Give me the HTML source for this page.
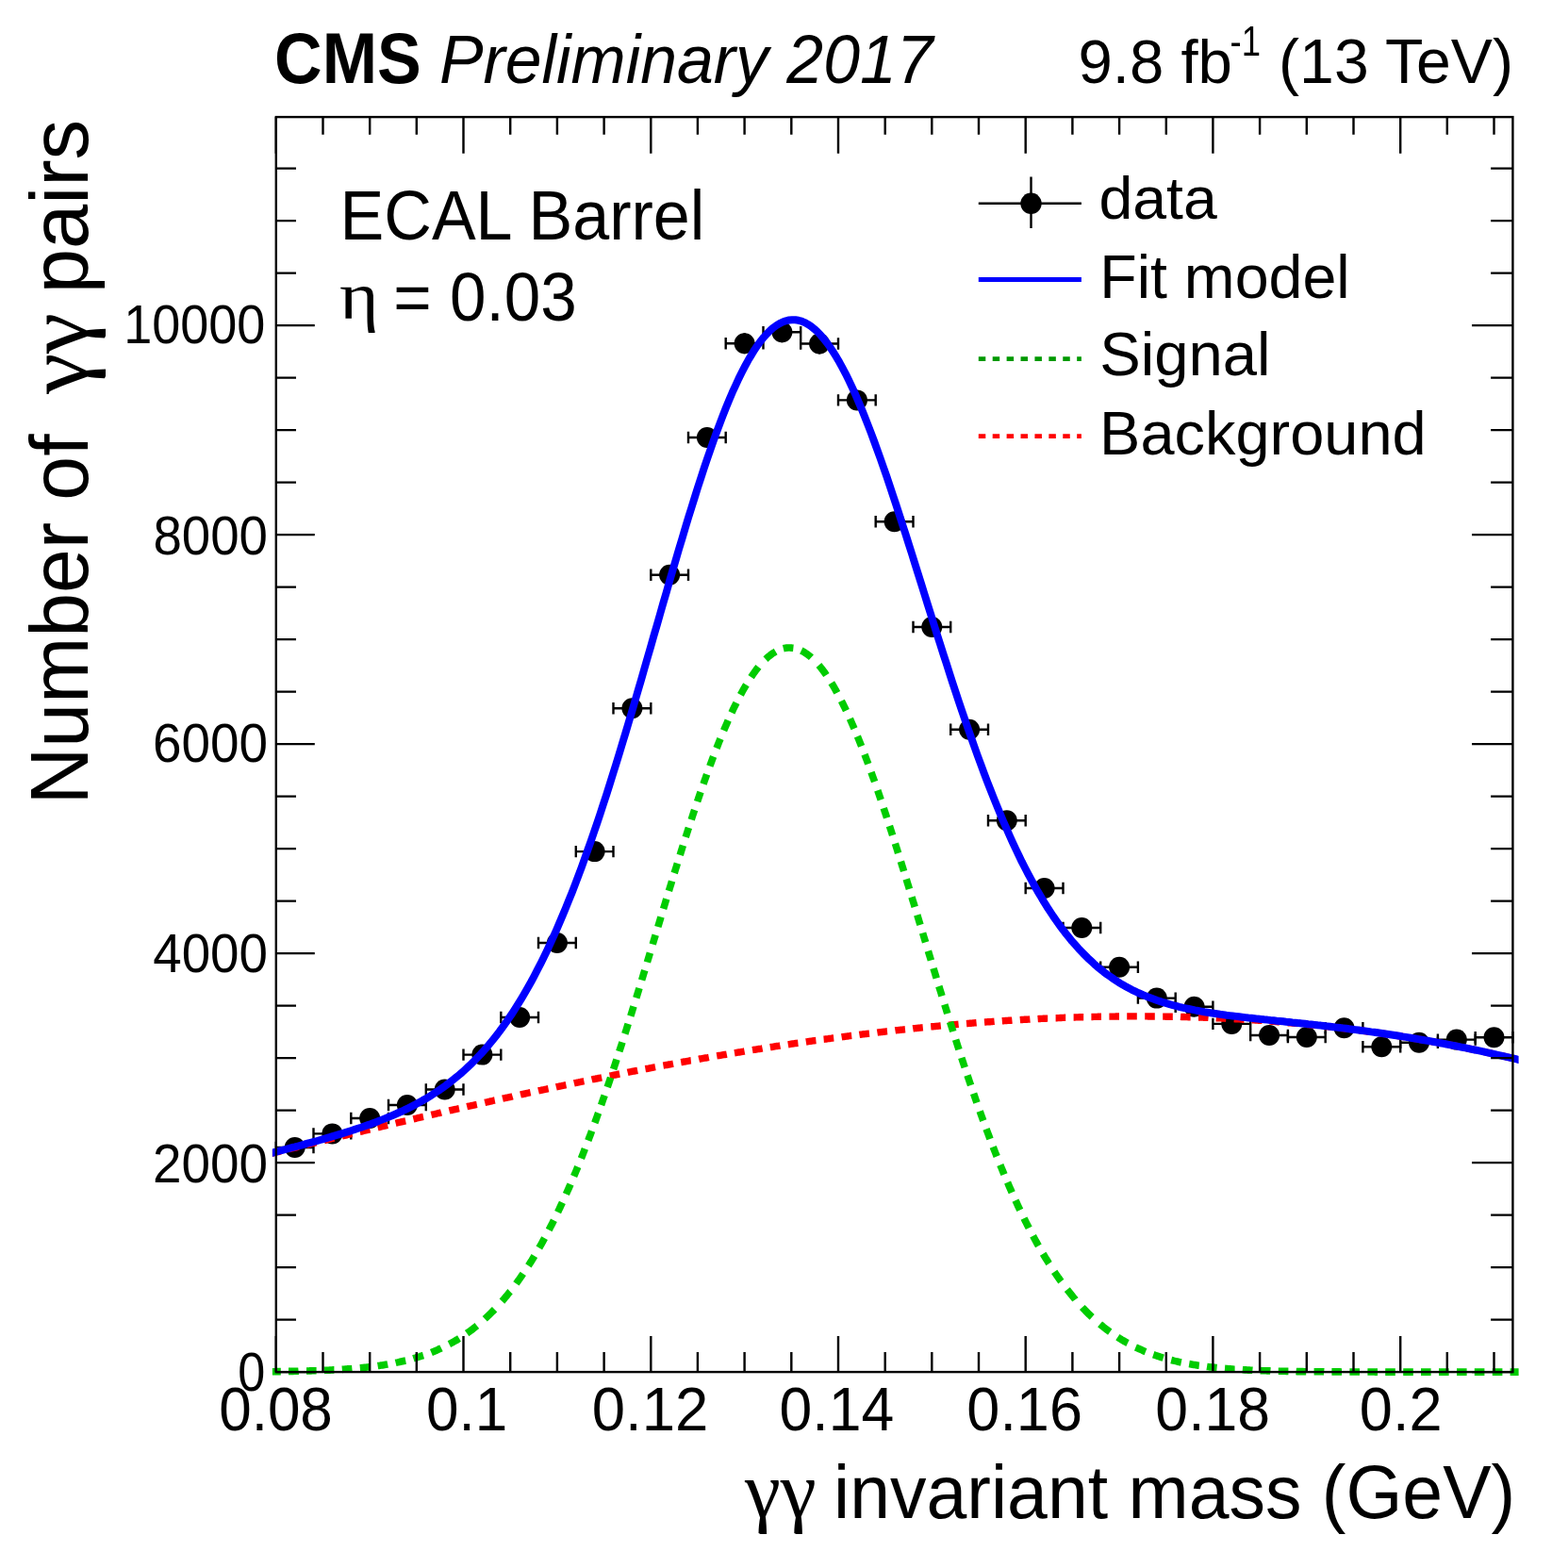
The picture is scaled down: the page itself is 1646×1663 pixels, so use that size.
<!DOCTYPE html>
<html lang="en">
<head>
<meta charset="utf-8">
<title>CMS Preliminary 2017 - ECAL Barrel diphoton invariant mass</title>
<style>
html,body{margin:0;padding:0;background:#fff;}
body{width:1646px;height:1663px;overflow:hidden;}
svg{display:block;filter:blur(0.6px);}
text{font-family:"Liberation Sans", sans-serif;fill:#000;}
.g{font-family:"Liberation Serif", serif;}
.gm{font-family:"Liberation Serif", "DejaVu Serif", serif;}
</style>
</head>
<body>
<svg width="1646" height="1663" viewBox="0 0 1646 1663">
<rect x="0" y="0" width="1646" height="1663" fill="#fff"/>
<g id="data" stroke="#000" stroke-width="2.4" fill="#000">
<path d="M292.8 1217.0H332.5M292.8 1210.8V1223.2M332.5 1210.8V1223.2M312.7 1211.9V1222.1" fill="none"/><circle cx="312.7" cy="1217.0" r="11" stroke="none"/>
<path d="M332.5 1202.4H372.3M332.5 1196.2V1208.6M372.3 1196.2V1208.6M352.4 1197.1V1207.7" fill="none"/><circle cx="352.4" cy="1202.4" r="11" stroke="none"/>
<path d="M372.3 1186.0H412.0M372.3 1179.8V1192.2M412.0 1179.8V1192.2M392.2 1180.5V1191.5" fill="none"/><circle cx="392.2" cy="1186.0" r="11" stroke="none"/>
<path d="M412.0 1172.0H451.8M412.0 1165.8V1178.2M451.8 1165.8V1178.2M431.9 1166.4V1177.6" fill="none"/><circle cx="431.9" cy="1172.0" r="11" stroke="none"/>
<path d="M451.8 1155.5H491.5M451.8 1149.3V1161.7M491.5 1149.3V1161.7M471.7 1149.7V1161.3" fill="none"/><circle cx="471.7" cy="1155.5" r="11" stroke="none"/>
<path d="M491.5 1118.6H531.3M491.5 1112.4V1124.8M531.3 1112.4V1124.8M511.4 1112.5V1124.7" fill="none"/><circle cx="511.4" cy="1118.6" r="11" stroke="none"/>
<path d="M531.3 1079.0H571.0M531.3 1072.8V1085.2M571.0 1072.8V1085.2M551.1 1072.5V1085.5" fill="none"/><circle cx="551.1" cy="1079.0" r="11" stroke="none"/>
<path d="M571.0 1000.0H610.8M571.0 993.8V1006.2M610.8 993.8V1006.2M590.9 992.9V1007.1" fill="none"/><circle cx="590.9" cy="1000.0" r="11" stroke="none"/>
<path d="M610.8 903.1H650.5M610.8 896.9V909.3M650.5 896.9V909.3M630.6 895.3V910.9" fill="none"/><circle cx="630.6" cy="903.1" r="11" stroke="none"/>
<path d="M650.5 751.2H690.3M650.5 745.0V757.4M690.3 745.0V757.4M670.4 742.4V760.0" fill="none"/><circle cx="670.4" cy="751.2" r="11" stroke="none"/>
<path d="M690.3 609.8H730.0M690.3 603.6V616.0M730.0 603.6V616.0M710.1 600.1V619.5" fill="none"/><circle cx="710.1" cy="609.8" r="11" stroke="none"/>
<path d="M730.0 464.0H769.7M730.0 457.8V470.2M769.7 457.8V470.2M749.9 453.5V474.5" fill="none"/><circle cx="749.9" cy="464.0" r="11" stroke="none"/>
<path d="M769.7 364.2H809.5M769.7 358.0V370.4M809.5 358.0V370.4M789.6 353.2V375.2" fill="none"/><circle cx="789.6" cy="364.2" r="11" stroke="none"/>
<path d="M809.5 352.2H849.2M809.5 346.0V358.4M849.2 346.0V358.4M829.4 341.1V363.3" fill="none"/><circle cx="829.4" cy="352.2" r="11" stroke="none"/>
<path d="M849.2 364.5H889.0M849.2 358.3V370.7M889.0 358.3V370.7M869.1 353.5V375.5" fill="none"/><circle cx="869.1" cy="364.5" r="11" stroke="none"/>
<path d="M889.0 424.4H928.7M889.0 418.2V430.6M928.7 418.2V430.6M908.9 413.7V435.1" fill="none"/><circle cx="908.9" cy="424.4" r="11" stroke="none"/>
<path d="M928.7 553.2H968.5M928.7 547.0V559.4M968.5 547.0V559.4M948.6 543.2V563.2" fill="none"/><circle cx="948.6" cy="553.2" r="11" stroke="none"/>
<path d="M968.5 665.0H1008.2M968.5 658.8V671.2M1008.2 658.8V671.2M988.3 655.6V674.4" fill="none"/><circle cx="988.3" cy="665.0" r="11" stroke="none"/>
<path d="M1008.2 773.8H1048.0M1008.2 767.6V780.0M1048.0 767.6V780.0M1028.1 765.1V782.5" fill="none"/><circle cx="1028.1" cy="773.8" r="11" stroke="none"/>
<path d="M1048.0 870.2H1087.7M1048.0 864.0V876.4M1087.7 864.0V876.4M1067.8 862.1V878.3" fill="none"/><circle cx="1067.8" cy="870.2" r="11" stroke="none"/>
<path d="M1087.7 942.0H1127.5M1087.7 935.8V948.2M1127.5 935.8V948.2M1107.6 934.5V949.5" fill="none"/><circle cx="1107.6" cy="942.0" r="11" stroke="none"/>
<path d="M1127.5 984.0H1167.2M1127.5 977.8V990.2M1167.2 977.8V990.2M1147.3 976.8V991.2" fill="none"/><circle cx="1147.3" cy="984.0" r="11" stroke="none"/>
<path d="M1167.2 1025.8H1206.9M1167.2 1019.6V1032.0M1206.9 1019.6V1032.0M1187.1 1018.9V1032.7" fill="none"/><circle cx="1187.1" cy="1025.8" r="11" stroke="none"/>
<path d="M1206.9 1058.6H1246.7M1206.9 1052.4V1064.8M1246.7 1052.4V1064.8M1226.8 1052.0V1065.2" fill="none"/><circle cx="1226.8" cy="1058.6" r="11" stroke="none"/>
<path d="M1246.7 1067.7H1286.4M1246.7 1061.5V1073.9M1286.4 1061.5V1073.9M1266.6 1061.1V1074.3" fill="none"/><circle cx="1266.6" cy="1067.7" r="11" stroke="none"/>
<path d="M1286.4 1085.9H1326.2M1286.4 1079.7V1092.1M1326.2 1079.7V1092.1M1306.3 1079.5V1092.3" fill="none"/><circle cx="1306.3" cy="1085.9" r="11" stroke="none"/>
<path d="M1326.2 1098.0H1365.9M1326.2 1091.8V1104.2M1365.9 1091.8V1104.2M1346.1 1091.7V1104.3" fill="none"/><circle cx="1346.1" cy="1098.0" r="11" stroke="none"/>
<path d="M1365.9 1100.0H1405.7M1365.9 1093.8V1106.2M1405.7 1093.8V1106.2M1385.8 1093.7V1106.3" fill="none"/><circle cx="1385.8" cy="1100.0" r="11" stroke="none"/>
<path d="M1405.7 1090.2H1445.4M1405.7 1084.0V1096.4M1445.4 1084.0V1096.4M1425.5 1083.8V1096.6" fill="none"/><circle cx="1425.5" cy="1090.2" r="11" stroke="none"/>
<path d="M1445.4 1110.3H1485.2M1445.4 1104.1V1116.5M1485.2 1104.1V1116.5M1465.3 1104.1V1116.5" fill="none"/><circle cx="1465.3" cy="1110.3" r="11" stroke="none"/>
<path d="M1485.2 1105.7H1524.9M1485.2 1099.5V1111.9M1524.9 1099.5V1111.9M1505.0 1099.5V1111.9" fill="none"/><circle cx="1505.0" cy="1105.7" r="11" stroke="none"/>
<path d="M1524.9 1102.6H1564.7M1524.9 1096.4V1108.8M1564.7 1096.4V1108.8M1544.8 1096.3V1108.9" fill="none"/><circle cx="1544.8" cy="1102.6" r="11" stroke="none"/>
<path d="M1564.7 1100.2H1604.4M1564.7 1094.0V1106.4M1604.4 1094.0V1106.4M1584.5 1093.9V1106.5" fill="none"/><circle cx="1584.5" cy="1100.2" r="11" stroke="none"/>
</g>
<defs><clipPath id="cl"><rect x="288.9" y="100" width="1321.7" height="1363"/></clipPath></defs>
<g clip-path="url(#cl)">
<path id="bkg" d="M287.0 1223.5L288.2 1223.2L289.4 1222.9L290.6 1222.6L291.8 1222.3L293.0 1222.0L294.2 1221.7L295.4 1221.5L296.6 1221.2L297.8 1220.9M306.0 1218.8L307.2 1218.5L308.4 1218.2L309.6 1217.9L310.8 1217.7L312.0 1217.4L313.2 1217.1L314.4 1216.8L315.6 1216.5L316.6 1216.2M325.0 1214.2L326.2 1213.9L327.4 1213.6L328.6 1213.3L329.8 1213.0L331.0 1212.7L332.2 1212.4L333.4 1212.1L334.6 1211.8L335.6 1211.6M343.8 1209.6L345.0 1209.3L346.2 1209.0L347.4 1208.7L348.6 1208.4L349.8 1208.1L351.0 1207.8L352.2 1207.5L353.4 1207.2L354.4 1207.0M362.8 1204.9L364.0 1204.6L365.2 1204.4L366.4 1204.1L367.6 1203.8L368.8 1203.5L370.0 1203.2L371.2 1202.9L372.4 1202.6L373.4 1202.4M381.8 1200.3L383.0 1200.1L384.2 1199.8L385.4 1199.5L386.6 1199.2L387.8 1198.9L389.0 1198.6L390.2 1198.3L391.4 1198.0L392.4 1197.8M400.6 1195.8L401.8 1195.5L403.0 1195.3L404.2 1195.0L405.4 1194.7L406.6 1194.4L407.8 1194.1L409.0 1193.8L410.2 1193.5L411.2 1193.3M419.6 1191.3L420.8 1191.0L422.0 1190.7L423.2 1190.4L424.4 1190.2L425.6 1189.9L426.8 1189.6L428.0 1189.3L429.2 1189.0L430.2 1188.8M438.4 1186.9L439.6 1186.6L440.8 1186.3L442.0 1186.0L443.2 1185.7L444.4 1185.4L445.6 1185.2L446.8 1184.9L448.0 1184.6L449.0 1184.4M457.4 1182.4L458.6 1182.1L459.8 1181.8L461.0 1181.6L462.2 1181.3L463.4 1181.0L464.6 1180.7L465.8 1180.5L467.0 1180.2L468.0 1179.9M476.4 1178.0L477.6 1177.7L478.8 1177.5L480.0 1177.2L481.2 1176.9L482.4 1176.6L483.6 1176.3L484.8 1176.1L486.0 1175.8L487.0 1175.6M495.2 1173.7L496.4 1173.4L497.6 1173.1L498.8 1172.9L500.0 1172.6L501.2 1172.3L502.4 1172.1L503.6 1171.8L504.8 1171.5L505.8 1171.3M514.2 1169.4L515.4 1169.1L516.6 1168.9L517.8 1168.6L519.0 1168.3L520.2 1168.0L521.4 1167.8L522.6 1167.5L523.8 1167.2L524.8 1167.0M533.0 1165.2L534.2 1164.9L535.4 1164.7L536.6 1164.4L537.8 1164.1L539.0 1163.9L540.2 1163.6L541.4 1163.3L542.6 1163.1L543.6 1162.8M552.0 1161.0L553.2 1160.7L554.4 1160.5L555.6 1160.2L556.8 1160.0L558.0 1159.7L559.2 1159.4L560.4 1159.2L561.6 1158.9L562.6 1158.7M571.0 1156.9L572.2 1156.6L573.4 1156.4L574.6 1156.1L575.8 1155.8L577.0 1155.6L578.2 1155.3L579.4 1155.1L580.6 1154.8L581.6 1154.6M589.8 1152.9L591.0 1152.6L592.2 1152.4L593.4 1152.1L594.6 1151.8L595.8 1151.6L597.0 1151.3L598.2 1151.1L599.4 1150.8L600.4 1150.6M608.8 1148.9L610.0 1148.6L611.2 1148.4L612.4 1148.1L613.6 1147.9L614.8 1147.6L616.0 1147.4L617.2 1147.1L618.4 1146.9L619.4 1146.7M627.6 1145.0L628.8 1144.7L630.0 1144.5L631.2 1144.3L632.4 1144.0L633.6 1143.8L634.8 1143.5L636.0 1143.3L637.2 1143.0L638.2 1142.8M646.6 1141.1L647.8 1140.9L649.0 1140.7L650.2 1140.4L651.4 1140.2L652.6 1140.0L653.8 1139.7L655.0 1139.5L656.2 1139.2L657.2 1139.0M665.6 1137.4L666.8 1137.1L668.0 1136.9L669.2 1136.7L670.4 1136.4L671.6 1136.2L672.8 1136.0L674.0 1135.7L675.2 1135.5L676.2 1135.3M684.4 1133.7L685.6 1133.5L686.8 1133.3L688.0 1133.1L689.2 1132.8L690.4 1132.6L691.6 1132.4L692.8 1132.1L694.0 1131.9L695.0 1131.7M703.4 1130.1L704.6 1129.9L705.8 1129.7L707.0 1129.5L708.2 1129.3L709.4 1129.0L710.6 1128.8L711.8 1128.6L713.0 1128.4L714.0 1128.2M722.2 1126.7L723.4 1126.5L724.6 1126.2L725.8 1126.0L727.0 1125.8L728.2 1125.6L729.4 1125.4L730.6 1125.2L731.8 1124.9L732.8 1124.8M741.2 1123.3L742.4 1123.0L743.6 1122.8L744.8 1122.6L746.0 1122.4L747.2 1122.2L748.4 1122.0L749.6 1121.8L750.8 1121.6L751.8 1121.4M760.2 1119.9L761.4 1119.7L762.6 1119.5L763.8 1119.3L765.0 1119.1L766.2 1118.9L767.4 1118.7L768.6 1118.5L769.8 1118.3L770.8 1118.1M779.0 1116.8L780.2 1116.6L781.4 1116.4L782.6 1116.2L783.8 1116.0L785.0 1115.8L786.2 1115.6L787.4 1115.4L788.6 1115.2L789.6 1115.0M798.0 1113.6L799.2 1113.4L800.4 1113.3L801.6 1113.1L802.8 1112.9L804.0 1112.7L805.2 1112.5L806.4 1112.3L807.6 1112.1L808.6 1111.9M816.8 1110.7L818.0 1110.5L819.2 1110.3L820.4 1110.1L821.6 1109.9L822.8 1109.7L824.0 1109.5L825.2 1109.4L826.4 1109.2L827.4 1109.0M835.8 1107.8L837.0 1107.6L838.2 1107.4L839.4 1107.2L840.6 1107.0L841.8 1106.9L843.0 1106.7L844.2 1106.5L845.4 1106.3L846.4 1106.2M854.8 1105.0L856.0 1104.8L857.2 1104.6L858.4 1104.4L859.6 1104.3L860.8 1104.1L862.0 1103.9L863.2 1103.8L864.4 1103.6L865.4 1103.5M873.6 1102.3L874.8 1102.2L876.0 1102.0L877.2 1101.8L878.4 1101.7L879.6 1101.5L880.8 1101.3L882.0 1101.2L883.2 1101.0L884.2 1100.9M892.6 1099.8L893.8 1099.6L895.0 1099.5L896.2 1099.3L897.4 1099.1L898.6 1099.0L899.8 1098.8L901.0 1098.7L902.2 1098.5L903.2 1098.4M911.4 1097.4L912.6 1097.2L913.8 1097.1L915.0 1096.9L916.2 1096.8L917.4 1096.6L918.6 1096.5L919.8 1096.3L921.0 1096.2L922.0 1096.1M930.4 1095.1L931.6 1094.9L932.8 1094.8L934.0 1094.6L935.2 1094.5L936.4 1094.3L937.6 1094.2L938.8 1094.1L940.0 1093.9L941.0 1093.8M949.4 1092.9L950.6 1092.7L951.8 1092.6L953.0 1092.5L954.2 1092.3L955.4 1092.2L956.6 1092.1L957.8 1092.0L959.0 1091.8L960.0 1091.7M968.2 1090.9L969.4 1090.7L970.6 1090.6L971.8 1090.5L973.0 1090.4L974.2 1090.2L975.4 1090.1L976.6 1090.0L977.8 1089.9L978.8 1089.8M987.2 1088.9L988.4 1088.8L989.6 1088.7L990.8 1088.6L992.0 1088.5L993.2 1088.4L994.4 1088.3L995.6 1088.1L996.8 1088.0L997.8 1087.9M1006.0 1087.2L1007.2 1087.1L1008.4 1087.0L1009.6 1086.9L1010.8 1086.8L1012.0 1086.7L1013.2 1086.6L1014.4 1086.5L1015.6 1086.4L1016.6 1086.3M1025.0 1085.6L1026.2 1085.5L1027.4 1085.4L1028.6 1085.3L1029.8 1085.2L1031.0 1085.1L1032.2 1085.0L1033.4 1084.9L1034.6 1084.8L1035.6 1084.7M1044.0 1084.1L1045.2 1084.0L1046.4 1083.9L1047.6 1083.8L1048.8 1083.7L1050.0 1083.7L1051.2 1083.6L1052.4 1083.5L1053.6 1083.4L1054.6 1083.3M1062.8 1082.8L1064.0 1082.7L1065.2 1082.6L1066.4 1082.5L1067.6 1082.5L1068.8 1082.4L1070.0 1082.3L1071.2 1082.2L1072.4 1082.2L1073.4 1082.1M1081.8 1081.6L1083.0 1081.5L1084.2 1081.5L1085.4 1081.4L1086.6 1081.3L1087.8 1081.3L1089.0 1081.2L1090.2 1081.1L1091.4 1081.1L1092.4 1081.0M1100.6 1080.6L1101.8 1080.5L1103.0 1080.5L1104.2 1080.4L1105.4 1080.4L1106.6 1080.3L1107.8 1080.2L1109.0 1080.2L1110.2 1080.1L1111.2 1080.1M1119.6 1079.7L1120.8 1079.7L1122.0 1079.6L1123.2 1079.6L1124.4 1079.5L1125.6 1079.5L1126.8 1079.4L1128.0 1079.4L1129.2 1079.3L1130.2 1079.3M1138.6 1079.0L1139.8 1079.0L1141.0 1078.9L1142.2 1078.9L1143.4 1078.9L1144.6 1078.8L1145.8 1078.8L1147.0 1078.8L1148.2 1078.7L1149.2 1078.7M1157.4 1078.5L1158.6 1078.5L1159.8 1078.4L1161.0 1078.4L1162.2 1078.4L1163.4 1078.4L1164.6 1078.3L1165.8 1078.3L1167.0 1078.3L1168.0 1078.3M1176.4 1078.1L1177.6 1078.1L1178.8 1078.1L1180.0 1078.1L1181.2 1078.1L1182.4 1078.1L1183.6 1078.0L1184.8 1078.0L1186.0 1078.0L1187.0 1078.0M1195.2 1077.9L1196.4 1077.9L1197.6 1077.9L1198.8 1077.9L1200.0 1077.9L1201.2 1077.9L1202.4 1077.9L1203.6 1077.9L1204.8 1077.9L1205.8 1077.9M1214.2 1077.9L1215.4 1077.9L1216.6 1077.9L1217.8 1078.0L1219.0 1078.0L1220.2 1078.0L1221.4 1078.0L1222.6 1078.0L1223.8 1078.0L1224.8 1078.0M1233.2 1078.1L1234.4 1078.1L1235.6 1078.1L1236.8 1078.2L1238.0 1078.2L1239.2 1078.2L1240.4 1078.2L1241.6 1078.2L1242.8 1078.3L1243.8 1078.3M1252.0 1078.4L1253.2 1078.5L1254.4 1078.5L1255.6 1078.5L1256.8 1078.6L1258.0 1078.6L1259.2 1078.6L1260.4 1078.7L1261.6 1078.7L1262.6 1078.7M1271.0 1079.0L1272.2 1079.0L1273.4 1079.1L1274.6 1079.1L1275.8 1079.1L1277.0 1079.2L1278.2 1079.2L1279.4 1079.3L1280.6 1079.3L1281.6 1079.4M1289.8 1079.7L1291.0 1079.8L1292.2 1079.8L1293.4 1079.9L1294.6 1079.9L1295.8 1080.0L1297.0 1080.0L1298.2 1080.1L1299.4 1080.1L1300.4 1080.2M1308.8 1080.6L1310.0 1080.7L1311.2 1080.7L1312.4 1080.8L1313.6 1080.9L1314.8 1080.9L1316.0 1081.0L1317.2 1081.1L1318.4 1081.2L1319.4 1081.2M1327.8 1081.7L1329.0 1081.8L1330.2 1081.9L1331.4 1082.0L1332.6 1082.0L1333.8 1082.1L1335.0 1082.2L1336.2 1082.3L1337.4 1082.4L1338.4 1082.4M1346.6 1083.0L1347.8 1083.1L1349.0 1083.2L1350.2 1083.3L1351.4 1083.4L1352.6 1083.5L1353.8 1083.6L1355.0 1083.7L1356.2 1083.8L1357.2 1083.9M1365.6 1084.6L1366.8 1084.7L1368.0 1084.8L1369.2 1084.9L1370.4 1085.0L1371.6 1085.1L1372.8 1085.2L1374.0 1085.3L1375.2 1085.4L1376.2 1085.5M1384.4 1086.3L1385.6 1086.4L1386.8 1086.5L1388.0 1086.6L1389.2 1086.7L1390.4 1086.8L1391.6 1087.0L1392.8 1087.1L1394.0 1087.2L1395.0 1087.3M1403.4 1088.2L1404.6 1088.3L1405.8 1088.5L1407.0 1088.6L1408.2 1088.7L1409.4 1088.9L1410.6 1089.0L1411.8 1089.1L1413.0 1089.3L1414.0 1089.4M1422.4 1090.3L1423.6 1090.5L1424.8 1090.6L1426.0 1090.8L1427.2 1090.9L1428.4 1091.1L1429.6 1091.2L1430.8 1091.4L1432.0 1091.5L1433.0 1091.6M1441.2 1092.7L1442.4 1092.8L1443.6 1093.0L1444.8 1093.2L1446.0 1093.3L1447.2 1093.5L1448.4 1093.6L1449.6 1093.8L1450.8 1094.0L1451.8 1094.1M1460.2 1095.3L1461.4 1095.4L1462.6 1095.6L1463.8 1095.8L1465.0 1096.0L1466.2 1096.1L1467.4 1096.3L1468.6 1096.5L1469.8 1096.7L1470.8 1096.8M1479.0 1098.0L1480.2 1098.2L1481.4 1098.4L1482.6 1098.6L1483.8 1098.8L1485.0 1099.0L1486.2 1099.2L1487.4 1099.4L1488.6 1099.6L1489.6 1099.7M1498.0 1101.1L1499.2 1101.3L1500.4 1101.5L1501.6 1101.7L1502.8 1101.9L1504.0 1102.1L1505.2 1102.3L1506.4 1102.5L1507.6 1102.7L1508.6 1102.9M1517.0 1104.3L1518.2 1104.6L1519.4 1104.8L1520.6 1105.0L1521.8 1105.2L1523.0 1105.4L1524.2 1105.6L1525.4 1105.9L1526.6 1106.1L1527.6 1106.3M1535.8 1107.8L1537.0 1108.0L1538.2 1108.3L1539.4 1108.5L1540.6 1108.7L1541.8 1109.0L1543.0 1109.2L1544.2 1109.4L1545.4 1109.7L1546.4 1109.9M1554.8 1111.5L1556.0 1111.8L1557.2 1112.0L1558.4 1112.3L1559.6 1112.5L1560.8 1112.8L1562.0 1113.0L1563.2 1113.3L1564.4 1113.5L1565.4 1113.7M1573.6 1115.5L1574.8 1115.7L1576.0 1116.0L1577.2 1116.3L1578.4 1116.5L1579.6 1116.8L1580.8 1117.0L1582.0 1117.3L1583.2 1117.6L1584.2 1117.8M1592.6 1119.7L1593.8 1120.0L1595.0 1120.2L1596.2 1120.5L1597.4 1120.8L1598.6 1121.1L1599.8 1121.4L1601.0 1121.6L1602.2 1121.9L1603.2 1122.2M1611.6 1124.2L1611.8 1124.2" fill="none" stroke="#ff0000" stroke-width="7.4"/>
<path id="sig" d="M287.0 1454.7L288.2 1454.7L289.4 1454.7L290.6 1454.7L291.8 1454.7L293.0 1454.6L294.2 1454.6L295.4 1454.6L296.6 1454.6L297.8 1454.6M306.0 1454.4L307.2 1454.4L308.4 1454.4L309.6 1454.4L310.8 1454.4L312.0 1454.3L313.2 1454.3L314.4 1454.3L315.6 1454.3L316.6 1454.2M325.0 1454.0L326.2 1454.0L327.4 1454.0L328.6 1453.9L329.8 1453.9L331.0 1453.8L332.2 1453.8L333.4 1453.8L334.6 1453.7L335.6 1453.7M343.8 1453.4L345.0 1453.3L346.2 1453.3L347.4 1453.2L348.6 1453.2L349.8 1453.1L351.0 1453.0L352.2 1453.0L353.4 1452.9L354.4 1452.9M362.8 1452.4L364.0 1452.3L365.2 1452.2L366.4 1452.1L367.6 1452.0L368.8 1451.9L370.0 1451.9L371.2 1451.8L372.4 1451.7L373.4 1451.6M381.8 1450.8L383.0 1450.7L384.2 1450.6L385.4 1450.5L386.6 1450.3L387.8 1450.2L389.0 1450.1L390.2 1449.9L391.4 1449.8L392.4 1449.7M400.6 1448.6L401.8 1448.4L403.0 1448.3L404.2 1448.1L405.4 1447.9L406.6 1447.7L407.8 1447.5L409.0 1447.3L410.2 1447.1L411.2 1446.9M419.6 1445.4L420.8 1445.1L422.0 1444.9L423.2 1444.6L424.4 1444.3L425.6 1444.1L426.8 1443.8L428.0 1443.5L429.2 1443.2L430.2 1443.0M438.4 1440.8L439.6 1440.4L440.8 1440.1L442.0 1439.7L443.2 1439.4L444.4 1439.0L445.6 1438.6L446.8 1438.2L448.0 1437.8L449.0 1437.5M457.4 1434.4L458.6 1433.9L459.8 1433.4L461.0 1432.9L462.2 1432.4L463.4 1431.9L464.6 1431.4L465.8 1430.8L467.0 1430.3L468.0 1429.8M476.4 1425.6L477.6 1425.0L478.8 1424.3L480.0 1423.7L481.2 1423.0L482.4 1422.3L483.6 1421.6L484.8 1420.9L486.0 1420.1L487.0 1419.5M495.2 1414.1L496.4 1413.2L497.6 1412.4L498.8 1411.5L500.0 1410.6L501.2 1409.7L502.4 1408.7L503.6 1407.8L504.8 1406.8L505.8 1406.0M514.2 1398.8L515.4 1397.7L516.6 1396.6L517.8 1395.4L519.0 1394.3L520.2 1393.1L521.4 1391.9L522.6 1390.7L523.8 1389.5L524.6 1388.7M532.4 1380.1L533.6 1378.8L534.8 1377.3L536.0 1375.9L537.2 1374.5L538.4 1373.0L539.6 1371.5L540.8 1370.0L541.0 1369.8M547.4 1361.4L548.6 1359.7L549.8 1358.1L551.0 1356.4L552.2 1354.7L553.4 1352.9L554.6 1351.2L554.8 1350.9M560.4 1342.4L561.6 1340.5L562.8 1338.6L564.0 1336.7L565.2 1334.7L566.4 1332.7L566.8 1332.0M571.8 1323.5L573.0 1321.4L574.2 1319.3L575.4 1317.1L576.6 1314.9L577.6 1313.1M582.2 1304.4L583.4 1302.1L584.6 1299.7L585.8 1297.4L587.0 1295.0L587.4 1294.2M591.6 1285.6L592.8 1283.0L594.0 1280.5L595.2 1277.9L596.4 1275.3M600.4 1266.5L601.6 1263.8L602.8 1261.1L604.0 1258.4L605.0 1256.1M608.6 1247.6L609.8 1244.8L611.0 1241.9L612.2 1239.0L612.8 1237.5M616.4 1228.6L617.6 1225.6L618.8 1222.5L620.0 1219.5L620.4 1218.4M623.8 1209.6L625.0 1206.4L626.2 1203.3L627.4 1200.1L627.6 1199.5M630.8 1190.9L632.0 1187.6L633.2 1184.3L634.4 1180.9L634.6 1180.4M637.6 1171.9L638.8 1168.5L640.0 1165.1L641.2 1161.7M644.2 1152.9L645.4 1149.4L646.6 1145.9L647.6 1142.9M650.6 1134.0L651.8 1130.4L653.0 1126.8L654.0 1123.7M656.8 1115.2L658.0 1111.5L659.2 1107.8L660.0 1105.3M662.8 1096.5L664.0 1092.8L665.2 1089.0L666.2 1085.8M668.8 1077.6L670.0 1073.8L671.2 1069.9L672.0 1067.4M674.8 1058.3L676.0 1054.5L677.2 1050.6L678.0 1048.0M680.6 1039.5L681.8 1035.6L683.0 1031.7L683.8 1029.1M686.4 1020.5L687.6 1016.6L688.8 1012.7L689.4 1010.7M692.2 1001.5L693.4 997.5L694.6 993.6L695.2 991.6M697.8 983.0L699.0 979.1L700.2 975.1L701.0 972.5M703.6 963.9L704.8 960.0L706.0 956.0L706.8 953.4M709.4 944.9L710.6 941.0L711.8 937.1L712.6 934.5M715.2 926.0L716.4 922.2L717.6 918.3L718.4 915.7M721.2 906.8L722.4 903.0L723.6 899.2L724.4 896.6M727.2 887.8L728.4 884.1L729.6 880.4L730.4 877.9M733.2 869.3L734.4 865.6L735.6 862.0L736.6 859.0M739.6 850.1L740.8 846.5L742.0 843.0L743.0 840.1M746.0 831.5L747.2 828.1L748.4 824.7L749.6 821.3M752.8 812.5L754.0 809.3L755.2 806.1L756.4 802.9L756.6 802.4M760.0 793.5L761.2 790.5L762.4 787.4L763.6 784.5L764.0 783.5M767.6 774.8L768.8 771.9L770.0 769.2L771.2 766.4L772.2 764.1M776.0 755.8L777.2 753.2L778.4 750.7L779.6 748.3L780.8 745.8L781.0 745.4M785.4 736.9L786.6 734.7L787.8 732.5L789.0 730.4L790.2 728.3L791.4 726.3M796.6 718.1L797.8 716.3L799.0 714.6L800.2 712.9L801.4 711.3L802.6 709.7L803.8 708.2L804.4 707.4M812.0 699.1L813.2 698.0L814.4 696.9L815.6 695.9L816.8 695.0L818.0 694.0L819.2 693.2L820.4 692.4L821.6 691.7L822.6 691.1M830.8 687.8L832.0 687.5L833.2 687.3L834.4 687.1L835.6 687.0L836.8 687.0L838.0 687.0L839.2 687.1L840.4 687.2L841.4 687.3M849.8 690.0L851.0 690.6L852.2 691.3L853.4 692.0L854.6 692.8L855.8 693.6L857.0 694.5L858.2 695.4L859.4 696.4L860.4 697.3M868.4 705.5L869.6 706.9L870.8 708.4L872.0 709.9L873.2 711.5L874.4 713.1L875.6 714.8L876.4 716.0M881.8 724.3L883.0 726.3L884.2 728.3L885.4 730.4L886.6 732.5L887.8 734.7M892.4 743.4L893.6 745.8L894.8 748.2L896.0 750.7L897.2 753.2L897.4 753.6M901.4 762.3L902.6 765.0L903.8 767.7L905.0 770.5L906.0 772.8M909.4 781.0L910.6 783.9L911.8 786.9L913.0 789.9L913.6 791.4M917.0 800.2L918.2 803.3L919.4 806.5L920.6 809.7L920.8 810.3M924.0 819.0L925.2 822.4L926.4 825.7L927.6 829.1M930.8 838.3L932.0 841.8L933.2 845.3L934.2 848.2M937.2 857.1L938.4 860.7L939.6 864.3L940.6 867.4M943.4 876.0L944.6 879.7L945.8 883.4L946.6 885.9M949.4 894.7L950.6 898.4L951.8 902.2L952.6 904.8M955.4 913.7L956.6 917.6L957.8 921.4L958.6 924.0M961.2 932.4L962.4 936.3L963.6 940.2L964.4 942.9M967.0 951.4L968.2 955.3L969.4 959.2L970.2 961.8M972.8 970.4L974.0 974.4L975.2 978.3L976.0 980.9M978.6 989.5L979.8 993.5L981.0 997.4L981.6 999.4M984.4 1008.6L985.6 1012.6L986.8 1016.5L987.4 1018.5M990.0 1027.0L991.2 1030.9L992.4 1034.9L993.2 1037.5M995.8 1046.0L997.0 1049.8L998.2 1053.7L999.0 1056.3M1001.8 1065.3L1003.0 1069.2L1004.2 1073.0L1004.8 1075.0M1007.6 1083.9L1008.8 1087.7L1010.0 1091.4L1010.8 1094.0M1013.6 1102.7L1014.8 1106.4L1016.0 1110.1L1017.0 1113.2M1019.8 1121.8L1021.0 1125.5L1022.2 1129.1L1023.2 1132.1M1026.0 1140.5L1027.2 1144.0L1028.4 1147.6L1029.6 1151.1M1032.6 1159.8L1033.8 1163.3L1035.0 1166.7L1036.0 1169.6M1039.2 1178.6L1040.4 1182.0L1041.6 1185.3L1042.8 1188.6M1046.0 1197.3L1047.2 1200.5L1048.4 1203.7L1049.6 1206.9L1050.0 1208.0M1053.2 1216.3L1054.4 1219.4L1055.6 1222.5L1056.8 1225.5L1057.2 1226.5M1060.8 1235.5L1062.0 1238.4L1063.2 1241.3L1064.4 1244.2L1065.0 1245.7M1068.6 1254.1L1069.8 1256.9L1071.0 1259.7L1072.2 1262.4L1073.2 1264.7M1077.0 1273.1L1078.2 1275.7L1079.4 1278.3L1080.6 1280.9L1081.8 1283.4M1086.0 1292.1L1087.2 1294.5L1088.4 1296.9L1089.6 1299.3L1090.8 1301.6L1091.2 1302.4M1095.6 1310.8L1096.8 1313.0L1098.0 1315.2L1099.2 1317.4L1100.4 1319.6L1101.4 1321.4M1106.2 1329.7L1107.4 1331.7L1108.6 1333.7L1109.8 1335.6L1111.0 1337.6L1112.2 1339.5L1112.6 1340.1M1118.2 1348.8L1119.4 1350.6L1120.6 1352.3L1121.8 1354.1L1123.0 1355.8L1124.2 1357.5L1125.4 1359.1M1131.8 1367.7L1133.0 1369.2L1134.2 1370.7L1135.4 1372.2L1136.6 1373.7L1137.8 1375.2L1139.0 1376.6L1140.2 1378.0L1140.4 1378.3M1147.8 1386.5L1149.0 1387.8L1150.2 1389.0L1151.4 1390.3L1152.6 1391.5L1153.8 1392.7L1155.0 1393.9L1156.2 1395.0L1157.4 1396.2L1158.2 1396.9M1166.6 1404.4L1167.8 1405.4L1169.0 1406.3L1170.2 1407.3L1171.4 1408.3L1172.6 1409.2L1173.8 1410.1L1175.0 1411.0L1176.2 1411.9L1177.2 1412.6M1185.4 1418.2L1186.6 1419.0L1187.8 1419.7L1189.0 1420.5L1190.2 1421.2L1191.4 1421.9L1192.6 1422.6L1193.8 1423.3L1195.0 1424.0L1196.0 1424.5M1204.4 1428.9L1205.6 1429.4L1206.8 1430.0L1208.0 1430.5L1209.2 1431.1L1210.4 1431.6L1211.6 1432.1L1212.8 1432.7L1214.0 1433.2L1215.0 1433.6M1223.2 1436.7L1224.4 1437.1L1225.6 1437.5L1226.8 1437.9L1228.0 1438.3L1229.2 1438.7L1230.4 1439.1L1231.6 1439.5L1232.8 1439.8L1233.8 1440.1M1242.2 1442.5L1243.4 1442.8L1244.6 1443.1L1245.8 1443.4L1247.0 1443.6L1248.2 1443.9L1249.4 1444.2L1250.6 1444.5L1251.8 1444.7L1252.8 1444.9M1261.2 1446.6L1262.4 1446.8L1263.6 1447.0L1264.8 1447.2L1266.0 1447.4L1267.2 1447.6L1268.4 1447.8L1269.6 1448.0L1270.8 1448.2L1271.8 1448.3M1280.0 1449.4L1281.2 1449.6L1282.4 1449.7L1283.6 1449.9L1284.8 1450.0L1286.0 1450.1L1287.2 1450.3L1288.4 1450.4L1289.6 1450.5L1290.6 1450.6M1299.0 1451.4L1300.2 1451.5L1301.4 1451.6L1302.6 1451.7L1303.8 1451.8L1305.0 1451.9L1306.2 1452.0L1307.4 1452.1L1308.6 1452.2L1309.6 1452.2M1317.8 1452.7L1319.0 1452.8L1320.2 1452.9L1321.4 1452.9L1322.6 1453.0L1323.8 1453.1L1325.0 1453.1L1326.2 1453.2L1327.4 1453.2L1328.4 1453.3M1336.8 1453.6L1338.0 1453.7L1339.2 1453.7L1340.4 1453.7L1341.6 1453.8L1342.8 1453.8L1344.0 1453.9L1345.2 1453.9L1346.4 1453.9L1347.4 1454.0M1355.8 1454.2L1357.0 1454.2L1358.2 1454.2L1359.4 1454.3L1360.6 1454.3L1361.8 1454.3L1363.0 1454.3L1364.2 1454.4L1365.4 1454.4L1366.4 1454.4M1374.6 1454.5L1375.8 1454.6L1377.0 1454.6L1378.2 1454.6L1379.4 1454.6L1380.6 1454.6L1381.8 1454.6L1383.0 1454.7L1384.2 1454.7L1385.2 1454.7M1393.6 1454.8L1394.8 1454.8L1396.0 1454.8L1397.2 1454.8L1398.4 1454.8L1399.6 1454.8L1400.8 1454.8L1402.0 1454.8L1403.2 1454.8L1404.2 1454.9M1412.4 1454.9L1413.6 1454.9L1414.8 1454.9L1416.0 1454.9L1417.2 1454.9L1418.4 1454.9L1419.6 1454.9L1420.8 1454.9L1422.0 1455.0L1423.0 1455.0M1431.4 1455.0L1432.6 1455.0L1433.8 1455.0L1435.0 1455.0L1436.2 1455.0L1437.4 1455.0L1438.6 1455.0L1439.8 1455.0L1441.0 1455.0L1442.0 1455.0M1450.4 1455.0L1451.6 1455.0L1452.8 1455.0L1454.0 1455.0L1455.2 1455.0L1456.4 1455.0L1457.6 1455.0L1458.8 1455.1L1460.0 1455.1L1461.0 1455.1M1469.2 1455.1L1470.4 1455.1L1471.6 1455.1L1472.8 1455.1L1474.0 1455.1L1475.2 1455.1L1476.4 1455.1L1477.6 1455.1L1478.8 1455.1L1479.8 1455.1M1488.2 1455.1L1489.4 1455.1L1490.6 1455.1L1491.8 1455.1L1493.0 1455.1L1494.2 1455.1L1495.4 1455.1L1496.6 1455.1L1497.8 1455.1L1498.8 1455.1M1507.0 1455.1L1508.2 1455.1L1509.4 1455.1L1510.6 1455.1L1511.8 1455.1L1513.0 1455.1L1514.2 1455.1L1515.4 1455.1L1516.6 1455.1L1517.6 1455.1M1526.0 1455.1L1527.2 1455.1L1528.4 1455.1L1529.6 1455.1L1530.8 1455.1L1532.0 1455.1L1533.2 1455.1L1534.4 1455.1L1535.6 1455.1L1536.6 1455.1M1545.0 1455.1L1546.2 1455.1L1547.4 1455.1L1548.6 1455.1L1549.8 1455.1L1551.0 1455.1L1552.2 1455.1L1553.4 1455.1L1554.6 1455.1L1555.6 1455.1M1563.8 1455.1L1565.0 1455.1L1566.2 1455.1L1567.4 1455.1L1568.6 1455.1L1569.8 1455.1L1571.0 1455.1L1572.2 1455.1L1573.4 1455.1L1574.4 1455.1M1582.8 1455.1L1584.0 1455.1L1585.2 1455.1L1586.4 1455.1L1587.6 1455.1L1588.8 1455.1L1590.0 1455.1L1591.2 1455.1L1592.4 1455.1L1593.4 1455.1M1601.6 1455.1L1602.8 1455.1L1604.0 1455.1L1605.2 1455.1L1606.4 1455.1L1607.6 1455.1L1608.8 1455.1L1610.0 1455.1L1611.2 1455.1L1611.8 1455.1" fill="none" stroke="#00cc00" stroke-width="7.6"/>
<path id="fit" d="M282.9 1224.2L286.2 1223.3L289.5 1222.5L292.9 1221.6L296.2 1220.7L299.5 1219.9L302.9 1219.0L306.2 1218.1L309.6 1217.2L312.9 1216.4L316.2 1215.5L319.6 1214.6L322.9 1213.7L326.2 1212.7L329.6 1211.8L332.9 1210.9L336.3 1210.0L339.6 1209.0L342.9 1208.1L346.3 1207.1L349.6 1206.2L352.9 1205.2L356.3 1204.2L359.6 1203.2L363.0 1202.2L366.3 1201.1L369.6 1200.1L373.0 1199.0L376.3 1197.9L379.6 1196.8L383.0 1195.7L386.3 1194.5L389.6 1193.4L393.0 1192.2L396.3 1190.9L399.7 1189.7L403.0 1188.4L406.3 1187.1L409.7 1185.8L413.0 1184.4L416.3 1183.0L419.7 1181.5L423.0 1180.0L426.4 1178.5L429.7 1176.9L433.0 1175.3L436.4 1173.6L439.7 1171.9L443.0 1170.1L446.4 1168.2L449.7 1166.3L453.1 1164.4L456.4 1162.3L459.7 1160.2L463.1 1158.0L466.4 1155.8L469.7 1153.4L473.1 1151.0L476.4 1148.5L479.7 1145.9L483.1 1143.2L486.4 1140.5L489.8 1137.6L493.1 1134.6L496.4 1131.5L499.8 1128.3L503.1 1125.0L506.4 1121.5L509.8 1118.0L513.1 1114.3L516.5 1110.5L519.8 1106.5L523.1 1102.5L526.5 1098.2L529.8 1093.9L533.1 1089.3L536.5 1084.7L539.8 1079.8L543.2 1074.9L546.5 1069.7L549.8 1064.4L553.2 1058.9L556.5 1053.3L559.8 1047.5L563.2 1041.5L566.5 1035.3L569.8 1028.9L573.2 1022.4L576.5 1015.7L579.9 1008.7L583.2 1001.6L586.5 994.4L589.9 986.9L593.2 979.2L596.5 971.4L599.9 963.3L603.2 955.1L606.6 946.7L609.9 938.1L613.2 929.3L616.6 920.3L619.9 911.2L623.2 901.9L626.6 892.4L629.9 882.7L633.3 872.9L636.6 862.9L639.9 852.7L643.3 842.4L646.6 832.0L649.9 821.4L653.3 810.6L656.6 799.8L659.9 788.8L663.3 777.8L666.6 766.6L670.0 755.3L673.3 744.0L676.6 732.6L680.0 721.1L683.3 709.5L686.6 698.0L690.0 686.4L693.3 674.7L696.7 663.1L700.0 651.5L703.3 639.9L706.7 628.3L710.0 616.7L713.3 605.3L716.7 593.9L720.0 582.5L723.4 571.3L726.7 560.2L730.0 549.2L733.4 538.4L736.7 527.7L740.0 517.1L743.4 506.8L746.7 496.6L750.0 486.7L753.4 477.0L756.7 467.5L760.1 458.2L763.4 449.3L766.7 440.6L770.1 432.1L773.4 424.0L776.7 416.2L780.1 408.8L783.4 401.6L786.8 394.8L790.1 388.4L793.4 382.3L796.8 376.6L800.1 371.2L803.4 366.3L806.8 361.7L810.1 357.6L813.5 353.8L816.8 350.5L820.1 347.6L823.5 345.1L826.8 343.1L830.1 341.5L833.5 340.3L836.8 339.5L840.1 339.2L843.5 339.2L846.8 339.8L850.2 340.7L853.5 342.1L856.8 343.9L860.2 346.1L863.5 348.8L866.8 351.8L870.2 355.3L873.5 359.2L876.9 363.4L880.2 368.0L883.5 373.0L886.9 378.4L890.2 384.1L893.5 390.2L896.9 396.6L900.2 403.3L903.6 410.4L906.9 417.7L910.2 425.4L913.6 433.3L916.9 441.5L920.2 449.9L923.6 458.6L926.9 467.5L930.2 476.6L933.6 486.0L936.9 495.5L940.3 505.1L943.6 515.0L946.9 525.0L950.3 535.1L953.6 545.3L956.9 555.6L960.3 566.0L963.6 576.5L967.0 587.1L970.3 597.7L973.6 608.3L977.0 619.0L980.3 629.6L983.6 640.3L987.0 651.0L990.3 661.6L993.6 672.2L997.0 682.7L1000.3 693.2L1003.7 703.6L1007.0 714.0L1010.3 724.2L1013.7 734.4L1017.0 744.4L1020.3 754.3L1023.7 764.1L1027.0 773.8L1030.4 783.4L1033.7 792.8L1037.0 802.0L1040.4 811.1L1043.7 820.1L1047.0 828.9L1050.4 837.5L1053.7 845.9L1057.1 854.2L1060.4 862.3L1063.7 870.2L1067.1 877.9L1070.4 885.5L1073.7 892.9L1077.1 900.1L1080.4 907.0L1083.7 913.9L1087.1 920.5L1090.4 926.9L1093.8 933.2L1097.1 939.2L1100.4 945.1L1103.8 950.8L1107.1 956.4L1110.4 961.7L1113.8 966.9L1117.1 971.9L1120.5 976.7L1123.8 981.3L1127.1 985.8L1130.5 990.2L1133.8 994.3L1137.1 998.4L1140.5 1002.2L1143.8 1005.9L1147.2 1009.5L1150.5 1012.9L1153.8 1016.2L1157.2 1019.3L1160.5 1022.4L1163.8 1025.3L1167.2 1028.0L1170.5 1030.7L1173.8 1033.2L1177.2 1035.6L1180.5 1037.9L1183.9 1040.2L1187.2 1042.3L1190.5 1044.3L1193.9 1046.2L1197.2 1048.0L1200.5 1049.8L1203.9 1051.4L1207.2 1053.0L1210.6 1054.5L1213.9 1055.9L1217.2 1057.3L1220.6 1058.6L1223.9 1059.8L1227.2 1061.0L1230.6 1062.1L1233.9 1063.2L1237.3 1064.2L1240.6 1065.2L1243.9 1066.1L1247.3 1066.9L1250.6 1067.8L1253.9 1068.6L1257.3 1069.3L1260.6 1070.0L1263.9 1070.7L1267.3 1071.4L1270.6 1072.0L1274.0 1072.6L1277.3 1073.2L1280.6 1073.7L1284.0 1074.3L1287.3 1074.8L1290.6 1075.3L1294.0 1075.8L1297.3 1076.2L1300.7 1076.7L1304.0 1077.1L1307.3 1077.5L1310.7 1077.9L1314.0 1078.3L1317.3 1078.7L1320.7 1079.1L1324.0 1079.5L1327.4 1079.8L1330.7 1080.2L1334.0 1080.6L1337.4 1080.9L1340.7 1081.3L1344.0 1081.6L1347.4 1082.0L1350.7 1082.3L1354.0 1082.7L1357.4 1083.0L1360.7 1083.3L1364.1 1083.7L1367.4 1084.0L1370.7 1084.4L1374.1 1084.7L1377.4 1085.1L1380.7 1085.4L1384.1 1085.8L1387.4 1086.2L1390.8 1086.5L1394.1 1086.9L1397.4 1087.3L1400.8 1087.6L1404.1 1088.0L1407.4 1088.4L1410.8 1088.8L1414.1 1089.2L1417.5 1089.6L1420.8 1090.0L1424.1 1090.4L1427.5 1090.8L1430.8 1091.3L1434.1 1091.7L1437.5 1092.1L1440.8 1092.5L1444.1 1093.0L1447.5 1093.4L1450.8 1093.9L1454.2 1094.4L1457.5 1094.8L1460.8 1095.3L1464.2 1095.8L1467.5 1096.3L1470.8 1096.8L1474.2 1097.3L1477.5 1097.8L1480.9 1098.3L1484.2 1098.8L1487.5 1099.4L1490.9 1099.9L1494.2 1100.4L1497.5 1101.0L1500.9 1101.5L1504.2 1102.1L1507.6 1102.7L1510.9 1103.3L1514.2 1103.8L1517.6 1104.4L1520.9 1105.0L1524.2 1105.6L1527.6 1106.3L1530.9 1106.9L1534.2 1107.5L1537.6 1108.1L1540.9 1108.8L1544.3 1109.4L1547.6 1110.1L1550.9 1110.8L1554.3 1111.4L1557.6 1112.1L1560.9 1112.8L1564.3 1113.5L1567.6 1114.2L1571.0 1114.9L1574.3 1115.6L1577.6 1116.4L1581.0 1117.1L1584.3 1117.8L1587.6 1118.6L1591.0 1119.3L1594.3 1120.1L1597.7 1120.9L1601.0 1121.6L1604.3 1122.4L1607.7 1123.2L1611.0 1124.0L1614.3 1124.8" fill="none" stroke="#0000ff" stroke-width="8" stroke-linejoin="round"/>
</g>
<g id="axes" stroke="#000" stroke-width="2.4" fill="none">
<rect x="292.8" y="124.1" width="1311.6" height="1331.0"/>
<path d="M292.8 1455.1V1417.1M292.8 124.1V162.8M342.5 1455.1V1434.1M342.5 124.1V142.8M392.2 1455.1V1434.1M392.2 124.1V142.8M441.8 1455.1V1434.1M441.8 124.1V142.8M491.5 1455.1V1417.1M491.5 124.1V162.8M541.2 1455.1V1434.1M541.2 124.1V142.8M590.9 1455.1V1434.1M590.9 124.1V142.8M640.6 1455.1V1434.1M640.6 124.1V142.8M690.3 1455.1V1417.1M690.3 124.1V162.8M739.9 1455.1V1434.1M739.9 124.1V142.8M789.6 1455.1V1434.1M789.6 124.1V142.8M839.3 1455.1V1434.1M839.3 124.1V142.8M889.0 1455.1V1417.1M889.0 124.1V162.8M938.7 1455.1V1434.1M938.7 124.1V142.8M988.3 1455.1V1434.1M988.3 124.1V142.8M1038.0 1455.1V1434.1M1038.0 124.1V142.8M1087.7 1455.1V1417.1M1087.7 124.1V162.8M1137.4 1455.1V1434.1M1137.4 124.1V142.8M1187.1 1455.1V1434.1M1187.1 124.1V142.8M1236.8 1455.1V1434.1M1236.8 124.1V142.8M1286.4 1455.1V1417.1M1286.4 124.1V162.8M1336.1 1455.1V1434.1M1336.1 124.1V142.8M1385.8 1455.1V1434.1M1385.8 124.1V142.8M1435.5 1455.1V1434.1M1435.5 124.1V142.8M1485.2 1455.1V1417.1M1485.2 124.1V162.8M1534.8 1455.1V1434.1M1534.8 124.1V142.8M1584.5 1455.1V1434.1M1584.5 124.1V142.8M292.8 1455.1H333.8M1604.4 1455.1H1561.0M292.8 1399.6H314.0M1604.4 1399.6H1581.1M292.8 1344.1H314.0M1604.4 1344.1H1581.1M292.8 1288.6H314.0M1604.4 1288.6H1581.1M292.8 1233.1H333.8M1604.4 1233.1H1561.0M292.8 1177.6H314.0M1604.4 1177.6H1581.1M292.8 1122.1H314.0M1604.4 1122.1H1581.1M292.8 1066.6H314.0M1604.4 1066.6H1581.1M292.8 1011.1H333.8M1604.4 1011.1H1561.0M292.8 955.6H314.0M1604.4 955.6H1581.1M292.8 900.1H314.0M1604.4 900.1H1581.1M292.8 844.6H314.0M1604.4 844.6H1581.1M292.8 789.1H333.8M1604.4 789.1H1561.0M292.8 733.6H314.0M1604.4 733.6H1581.1M292.8 678.1H314.0M1604.4 678.1H1581.1M292.8 622.6H314.0M1604.4 622.6H1581.1M292.8 567.1H333.8M1604.4 567.1H1561.0M292.8 511.6H314.0M1604.4 511.6H1581.1M292.8 456.1H314.0M1604.4 456.1H1581.1M292.8 400.6H314.0M1604.4 400.6H1581.1M292.8 345.1H333.8M1604.4 345.1H1561.0M292.8 289.6H314.0M1604.4 289.6H1581.1M292.8 234.1H314.0M1604.4 234.1H1581.1M292.8 178.6H314.0M1604.4 178.6H1581.1"/>
</g>
<g id="texts">
<text id="t_cms" transform="translate(291.05 88.40) scale(1.0007 1.0797)" font-size="70" font-weight="bold">CMS</text>
<text id="t_prelim" transform="translate(466.02 88.00) scale(0.9970 1.0250)" font-size="70" font-style="italic">Preliminary 2017</text>
<text id="t_lumi1" transform="translate(1143.54 87.90) scale(1.0201 1.0246)" font-size="64">9.8 fb</text>
<text id="t_lumi2" transform="translate(1304.53 58.50) scale(0.8678 1.0520)" font-size="42">-1</text>
<text id="t_lumi3" transform="translate(1356.07 87.90) scale(1.0344 1.0538)" font-size="64">(13 TeV)</text>
<text id="t_ecal" transform="translate(360.56 254.00) scale(1.0011 1.0524)" font-size="70">ECAL Barrel</text>
<text id="t_eta" transform="translate(360.09 338.42) scale(1.1408 1.0187)" font-size="70" class="g">η</text>
<text id="t_eta2" transform="translate(417.35 339.60) scale(0.9889 1.0295)" font-size="70">= 0.03</text>
<text id="t_leg1" transform="translate(1165.40 232.00) scale(1.0225 1.0100)" font-size="63">data</text>
<text id="t_leg2" transform="translate(1166.25 316.00) scale(1.0247 1.0250)" font-size="63">Fit model</text>
<text id="t_leg3" transform="translate(1166.16 398.30) scale(1.0353 1.0250)" font-size="63">Signal</text>
<text id="t_leg4" transform="translate(1166.12 481.70) scale(1.0306 1.0250)" font-size="63">Background</text>
<text id="t_x0_08" transform="translate(232.20 1516.50) scale(1.0000 1.0398)" font-size="62">0.08</text>
<text id="t_x0_1" transform="translate(452.10 1516.50) scale(1.0000 1.0398)" font-size="62">0.1</text>
<text id="t_x0_12" transform="translate(627.74 1516.50) scale(1.0247 1.0398)" font-size="62">0.12</text>
<text id="t_x0_14" transform="translate(826.58 1516.50) scale(1.0073 1.0398)" font-size="62">0.14</text>
<text id="t_x0_16" transform="translate(1025.36 1516.50) scale(1.0156 1.0398)" font-size="62">0.16</text>
<text id="t_x0_18" transform="translate(1225.37 1516.50) scale(1.0087 1.0398)" font-size="62">0.18</text>
<text id="t_x0_2" transform="translate(1441.85 1516.50) scale(1.0179 1.0398)" font-size="62">0.2</text>
<text id="t_y10000" transform="translate(131.14 364.40) scale(0.9823 1.0289)" font-size="55">10000</text>
<text id="t_y8000" transform="translate(162.43 587.80) scale(0.9940 1.0393)" font-size="55">8000</text>
<text id="t_y6000" transform="translate(161.92 808.10) scale(0.9982 1.0471)" font-size="55">6000</text>
<text id="t_y4000" transform="translate(162.21 1031.00) scale(0.9958 1.0367)" font-size="55">4000</text>
<text id="t_y2000" transform="translate(161.96 1254.30) scale(0.9979 1.0419)" font-size="55">2000</text>
<text id="t_y0" transform="translate(252.29 1474.70) scale(0.9496 1.0289)" font-size="55">0</text>
<text id="t_xt1a" transform="translate(789.97 1608.70) scale(1.0984 1.0823)" font-size="78" class="gm">γ</text>
<text id="t_xt1b" transform="translate(827.67 1608.70) scale(1.1015 1.0823)" font-size="78" class="gm">γ</text>
<text id="t_xt2" transform="translate(884.11 1609.80) scale(0.9871 1.0120)" font-size="78">invariant mass (GeV)</text>
<text id="t_yt1" transform="translate(93.20 853.47) rotate(-90) scale(0.9679 1.0080)" font-size="87">Number of</text>
<text id="t_yt2a" transform="translate(91.83 417.82) rotate(-90) scale(1.1199 1.0824)" font-size="87" class="gm">γ</text>
<text id="t_yt2b" transform="translate(91.83 374.92) rotate(-90) scale(1.1199 1.0824)" font-size="87" class="gm">γ</text>
<text id="t_yt3" transform="translate(93.20 311.33) rotate(-90) scale(0.9778 0.9920)" font-size="87">pairs</text>
</g>
<g id="legend">
<path d="M1037.8 215.8H1146.9M1093.5 187.5V241.9" stroke="#000" stroke-width="2.4" fill="none"/><circle cx="1093.5" cy="215.8" r="11.2"/>
<path d="M1037.8 296.5H1146.9" stroke="#0000ff" stroke-width="5" fill="none"/>
<path d="M1037.8 380.6H1146.9" stroke="#009900" stroke-width="4.9" stroke-dasharray="7.5 7.41" fill="none"/>
<path d="M1037.8 462.6H1146.9" stroke="#ff0000" stroke-width="4.9" stroke-dasharray="7.5 7.41" fill="none"/>
</g>
</svg>
</body>
</html>
